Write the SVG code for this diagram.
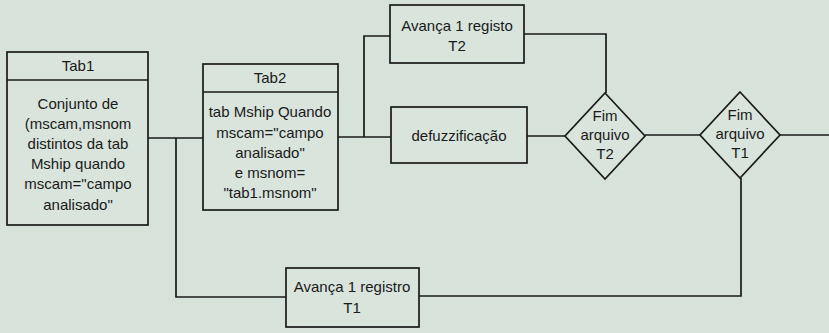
<svg xmlns="http://www.w3.org/2000/svg" width="829" height="333" viewBox="0 0 829 333">
<style>
.bg{fill:#d7e2db}
.box{fill:#d9e4dd;stroke:#1a1a1a;stroke-width:1.7}
.ln{fill:none;stroke:#1a1a1a;stroke-width:1.7}
text{font-family:"Liberation Sans",Arial,sans-serif;font-size:15px;fill:#1a1a1a;text-anchor:middle}
</style>
<rect class="bg" x="0" y="0" width="829" height="333"/>
<g id="connectors">
<polyline class="ln" points="148,138 203,138"/>
<polyline class="ln" points="176,138 176,297 286,297"/>
<polyline class="ln" points="338,137 391,137"/>
<polyline class="ln" points="364,137 364,36 390,36"/>
<polyline class="ln" points="524,34 606,34 606,93"/>
<polyline class="ln" points="527,136 565,136"/>
<polyline class="ln" points="645,135 700,135"/>
<polyline class="ln" points="780,135 829,135"/>
<polyline class="ln" points="741,178 741,296 419,296"/>
</g>
<g id="tab1">
<rect class="box" x="7" y="52" width="141" height="173"/>
<line class="ln" x1="7" y1="80" x2="148" y2="80"/>
<text x="78" y="71">Tab1</text>
<text x="78" y="109">Conjunto de</text>
<text x="78" y="129">(mscam,msnom</text>
<text x="78" y="149">distintos da tab</text>
<text x="78" y="169">Mship quando</text>
<text x="78" y="189">mscam="campo</text>
<text x="78" y="210">analisado"</text>
</g>
<g id="tab2">
<rect class="box" x="203" y="64" width="135" height="146"/>
<line class="ln" x1="203" y1="92" x2="338" y2="92"/>
<text x="270" y="83">Tab2</text>
<text x="270" y="117">tab Mship Quando</text>
<text x="270" y="138">mscam="campo</text>
<text x="270" y="158">analisado"</text>
<text x="270" y="178">e msnom=</text>
<text x="270" y="198">"tab1.msnom"</text>
</g>
<g id="avanca-t2">
<rect class="box" x="390" y="5" width="134" height="58"/>
<text x="457" y="31">Avança 1 registo</text>
<text x="457" y="51">T2</text>
</g>
<g id="defuzz">
<rect class="box" x="391" y="107" width="136" height="56"/>
<text x="459" y="141">defuzzificação</text>
</g>
<g id="fim-t2">
<polygon class="box" points="605,93 645,136 605,179 565,136"/>
<text x="605" y="121">Fim</text>
<text x="605" y="140">arquivo</text>
<text x="605" y="159">T2</text>
</g>
<g id="fim-t1">
<polygon class="box" points="740,92 780,135 740,178 700,135"/>
<text x="740" y="120">Fim</text>
<text x="740" y="139">arquivo</text>
<text x="740" y="158">T1</text>
</g>
<g id="avanca-t1">
<rect class="box" x="286" y="268" width="133" height="59"/>
<text x="352" y="292">Avança 1 registro</text>
<text x="352" y="313">T1</text>
</g>
</svg>
